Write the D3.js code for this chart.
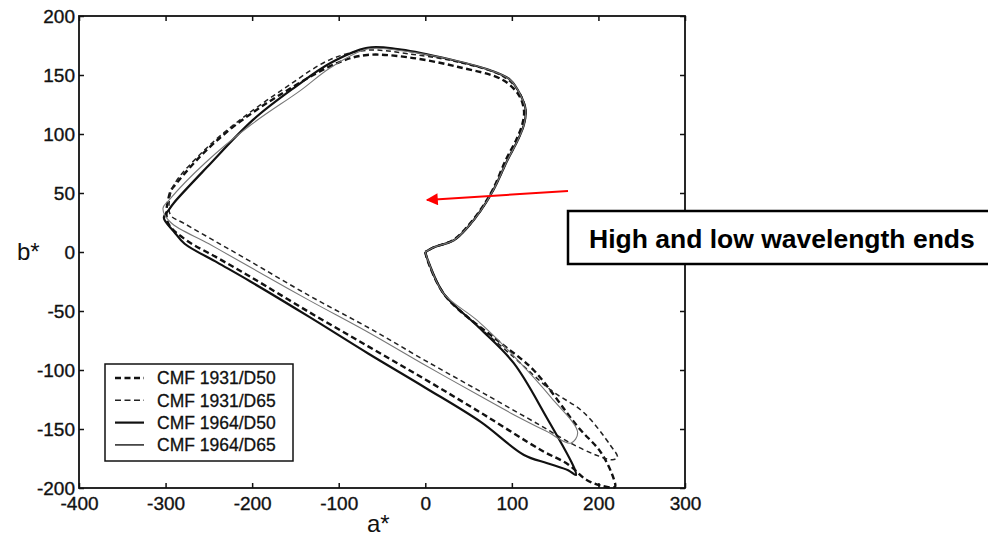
<!DOCTYPE html>
<html>
<head>
<meta charset="utf-8">
<script src="https://cdn.jsdelivr.net/npm/d3@7"></script>
<style>
  body { margin: 0; background: #fff; }
  svg { display: block; font-family: Arial, "Liberation Sans", sans-serif; }
  .axis text { font-size: 19px; fill: #111; stroke: #111; stroke-width: 0.35px; }
  .axis line { stroke: #111; stroke-width: 1.5px; }
</style>
</head>
<body>
<div id="chart"></div>
<script>
// tick values for both axes
var xTicks = [-400, -300, -200, -100, 0, 100, 200, 300];
var yTicks = [-200, -150, -100, -50, 0, 50, 100, 150, 200];

// spectral locus in a*,b* (origin -> violet tip -> cyan apex -> top -> red end)
var cmf1931D50 = [[0,0],[3,-8],[24,-38],[87,-77],[125,-100],[176,-148],[203,-170],[218,-193],[219,-199],
  [203,-198],[186,-193],[165,-180],[134,-168],[68,-138],[0,-108],[-66,-80],[-134,-51],[-202,-21],
  [-240,-5],[-276,10],[-296,23],[-299,34],[-294,52],[-291,55],[-260,81],[-222,106],[-164,135],
  [-99,161],[-67,167],[-20,165],[37,157],[89,146],[108,133],[114,120],[112,108],[105,95],[93,78],
  [78,53],[63,35],[48,21],[32,10],[10,4],[0,0]];

var cmf1931D65 = [[0,0],[3,-8],[21,-35],[49,-55],[102,-89],[145,-117],[183,-136],[214,-164],[222,-174],
  [216,-176],[197,-172],[168,-162],[133,-147],[68,-120],[0,-92],[-66,-64],[-134,-37],[-202,-8],
  [-240,8],[-278,24],[-294,31],[-296,40],[-291,56],[-257,85],[-214,112],[-162,139],[-110,163],
  [-67,171],[-20,168],[37,161],[89,149],[108,136],[116,121],[114,108],[107,95],[95,78],[79,53],
  [64,35],[49,21],[33,10],[10,4],[0,0]];

var cmf1964D50 = [[0,0],[3,-7],[21,-35],[62,-64],[102,-94],[140,-140],[172,-183],[174,-189],
  [165,-185],[141,-179],[114,-172],[64,-144],[0,-115],[-66,-86],[-134,-55],[-202,-25],[-240,-9],
  [-278,7],[-290,17],[-302,29],[-296,36],[-290,42],[-252,72],[-199,112],[-150,140],[-110,160],
  [-67,173],[-32,172],[18,165],[75,154],[98,146],[110,133],[116,120],[114,108],[107,95],[95,78],
  [79,53],[64,35],[49,21],[33,10],[10,4],[0,0]];

var cmf1964D65 = [[0,0],[3,-7],[21,-35],[60,-58],[102,-88],[145,-123],[176,-153],[168,-162],
  [140,-152],[100,-137],[68,-124],[0,-96],[-66,-68],[-134,-41],[-202,-13],[-250,7],[-294,25],
  [-303,37],[-296,44],[-255,75],[-201,108],[-144,137],[-110,156],[-67,172],[-32,171],[18,165],
  [75,154],[98,146],[110,133],[116,120],[114,108],[107,95],[95,78],[79,53],[64,35],[49,21],
  [33,10],[10,4],[0,0]];

var seriesNames = ["CMF 1931/D50", "CMF 1931/D65", "CMF 1964/D50", "CMF 1964/D65"];
var seriesData = [cmf1931D50, cmf1931D65, cmf1964D50, cmf1964D65];

var annotationText = "High and low wavelength ends";

var W = 988, H = 539;
var plot = {left: 79, right: 685, top: 16, bottom: 488};

// line styles per series (same order as seriesNames)
var styles = [
  {stroke: "#111", width: 2.4, dash: "6,3.5"},
  {stroke: "#222", width: 1.5, dash: "5,3.5"},
  {stroke: "#111", width: 2.2, dash: null},
  {stroke: "#777", width: 1.1, dash: null}
];

var svg = d3.select("#chart").append("svg")
    .attr("width", W)
    .attr("height", H);

svg.append("rect").attr("width", W).attr("height", H).attr("fill", "#fff");

var x = d3.scaleLinear().domain([-400, 300]).range([plot.left, plot.right]);
var y = d3.scaleLinear().domain([-200, 200]).range([plot.bottom, plot.top]);

// plain hyphen minus like the scan
var fmt = d => String(d);

// axes, ticks point inward
svg.append("g").attr("class", "axis")
    .attr("transform", "translate(0," + plot.bottom + ")")
    .call(d3.axisBottom(x).tickValues(xTicks).tickSizeInner(-5).tickSizeOuter(0).tickPadding(9).tickFormat(fmt))
    .call(g => g.select(".domain").remove());
svg.append("g").attr("class", "axis")
    .attr("transform", "translate(0," + plot.top + ")")
    .call(d3.axisTop(x).tickValues(xTicks).tickSizeInner(-5).tickSizeOuter(0).tickFormat(""))
    .call(g => g.select(".domain").remove());
svg.append("g").attr("class", "axis")
    .attr("transform", "translate(" + plot.left + ",0)")
    .call(d3.axisLeft(y).tickValues(yTicks).tickSizeInner(-5).tickSizeOuter(0).tickPadding(4).tickFormat(fmt))
    .call(g => g.select(".domain").remove());
svg.append("g").attr("class", "axis")
    .attr("transform", "translate(" + plot.right + ",0)")
    .call(d3.axisRight(y).tickValues(yTicks).tickSizeInner(-5).tickSizeOuter(0).tickFormat(""))
    .call(g => g.select(".domain").remove());

svg.append("rect")
    .attr("x", plot.left).attr("y", plot.top)
    .attr("width", plot.right - plot.left).attr("height", plot.bottom - plot.top)
    .attr("fill", "none").attr("stroke", "#111").attr("stroke-width", 1.8);

// the four loci
var line = d3.line().curve(d3.curveCatmullRom.alpha(0.5)).x(d => x(d[0])).y(d => y(d[1]));
svg.append("g").selectAll("path")
    .data(seriesData)
    .enter().append("path")
    .attr("d", line)
    .attr("fill", "none")
    .attr("stroke", (d, i) => styles[i].stroke)
    .attr("stroke-width", (d, i) => styles[i].width)
    .attr("stroke-dasharray", (d, i) => styles[i].dash)
    .attr("stroke-linejoin", "round");

// axis titles
svg.append("text").attr("x", 17).attr("y", 260)
    .style("font-size", "24px").attr("fill", "#111").text("b*");
svg.append("text").attr("x", 367).attr("y", 532)
    .style("font-size", "24px").attr("fill", "#111").text("a*");

// legend
var legend = svg.append("g");
legend.append("rect")
    .attr("x", 105).attr("y", 364).attr("width", 188).attr("height", 97)
    .attr("fill", "#fff").attr("stroke", "#111").attr("stroke-width", 1.5);
var rows = legend.selectAll(".row")
    .data(seriesNames)
    .enter().append("g")
    .attr("class", "row")
    .attr("transform", (d, i) => "translate(0," + (378 + i * 22.3) + ")");
rows.append("line")
    .attr("x1", 115).attr("x2", 144)
    .attr("stroke", (d, i) => styles[i].stroke === "#777" ? "#333" : styles[i].stroke)
    .attr("stroke-width", (d, i) => Math.max(styles[i].width, 1.6))
    .attr("stroke-dasharray", (d, i) => styles[i].dash ? "6,3.5" : null);
rows.append("text")
    .attr("x", 157).attr("dy", "0.36em")
    .style("font-size", "17.5px").attr("fill", "#111")
    .attr("stroke", "#111").attr("stroke-width", 0.3)
    .text(d => d);

// annotation arrow and box
svg.append("defs").append("marker")
    .attr("id", "arrowhead")
    .attr("viewBox", "0 0 10 10")
    .attr("refX", 9).attr("refY", 5)
    .attr("markerWidth", 8).attr("markerHeight", 6)
    .attr("orient", "auto")
    .attr("markerUnits", "userSpaceOnUse")
    .attr("markerWidth", 16).attr("markerHeight", 12)
    .append("path").attr("d", "M0,0L10,5L0,10Z").attr("fill", "#f00");

svg.append("line")
    .attr("x1", 568).attr("y1", 191)
    .attr("x2", 427).attr("y2", 200)
    .attr("stroke", "#f00").attr("stroke-width", 2)
    .attr("marker-end", "url(#arrowhead)");

svg.append("rect")
    .attr("x", 568).attr("y", 211).attr("width", 440).attr("height", 53)
    .attr("fill", "#fff").attr("stroke", "#000").attr("stroke-width", 2.5);
svg.append("text")
    .attr("x", 589).attr("y", 248)
    .style("font-size", "26.5px").style("font-weight", "bold").attr("fill", "#000")
    .text(annotationText);
</script>
</body>
</html>
